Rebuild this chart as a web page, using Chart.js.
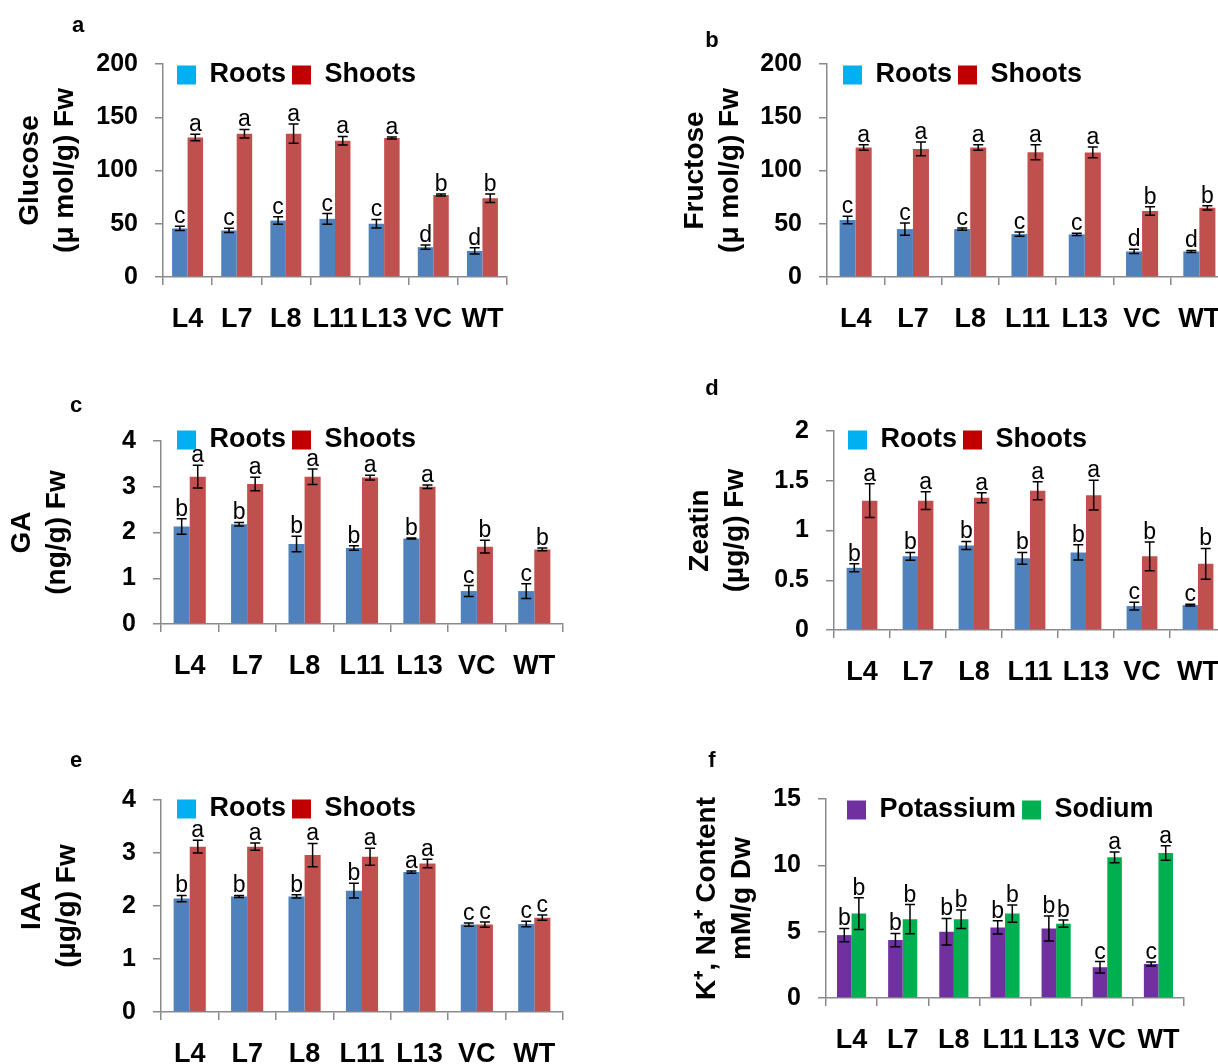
<!DOCTYPE html>
<html>
<head>
<meta charset="utf-8">
<script src="https://cdn.jsdelivr.net/npm/chart.js@4.4.0/dist/chart.umd.min.js"></script>
<style>
  html, body { margin: 0; padding: 0; background: #fff; width: 1218px; height: 1064px; overflow: hidden; }
  .panel { position: absolute; }
  .tag { position: absolute; width: 30px; text-align: center; font: bold 22px "Liberation Sans", Arial, sans-serif; color: #000; }
</style>
</head>
<body>
<script>
// ── data ──
const categories = ['L4', 'L7', 'L8', 'L11', 'L13', 'VC', 'WT'];

const glucoseRoots = [45.6, 43.7, 53, 54.6, 50, 28, 24.5];
const glucoseRootsErr = [2, 2, 3.5, 5, 4, 2, 3];
const glucoseRootsSig = ['c', 'c', 'c', 'c', 'c', 'd', 'd'];
const glucoseShoots = [131, 134.6, 134.6, 128, 130.5, 77, 74];
const glucoseShootsErr = [3, 4, 9, 4, 1, 1, 4];
const glucoseShootsSig = ['a', 'a', 'a', 'a', 'a', 'b', 'b'];

const fructoseRoots = [53.6, 45, 45, 40.3, 40, 24, 24];
const fructoseRootsErr = [3.5, 5.7, 1, 2, 1, 2, 1];
const fructoseRootsSig = ['c', 'c', 'c', 'c', 'c', 'd', 'd'];
const fructoseShoots = [121.6, 120.3, 121.6, 117.2, 117, 62, 65];
const fructoseShootsErr = [2.5, 6.5, 2.5, 7, 5, 4, 2];
const fructoseShootsSig = ['a', 'a', 'a', 'a', 'a', 'b', 'b'];

const gaRoots = [2.13, 2.18, 1.75, 1.66, 1.87, 0.72, 0.72];
const gaRootsErr = [0.17, 0.04, 0.17, 0.05, 0.01, 0.12, 0.16];
const gaRootsSig = ['b', 'b', 'b', 'b', 'b', 'c', 'c'];
const gaShoots = [3.22, 3.06, 3.22, 3.2, 3.0, 1.69, 1.63];
const gaShootsErr = [0.25, 0.15, 0.17, 0.05, 0.04, 0.14, 0.03];
const gaShootsSig = ['a', 'a', 'a', 'a', 'a', 'b', 'b'];

const zeatinRoots = [0.625, 0.74, 0.85, 0.72, 0.78, 0.24, 0.25];
const zeatinRootsErr = [0.04, 0.04, 0.04, 0.06, 0.076, 0.04, 0.01];
const zeatinRootsSig = ['b', 'b', 'b', 'b', 'b', 'c', 'c'];
const zeatinShoots = [1.3, 1.3, 1.33, 1.4, 1.355, 0.74, 0.665];
const zeatinShootsErr = [0.17, 0.09, 0.05, 0.09, 0.15, 0.145, 0.155];
const zeatinShootsSig = ['a', 'a', 'a', 'a', 'a', 'b', 'b'];

const iaaRoots = [2.14, 2.18, 2.18, 2.29, 2.64, 1.65, 1.66];
const iaaRootsErr = [0.06, 0.02, 0.03, 0.14, 0.02, 0.03, 0.05];
const iaaRootsSig = ['b', 'b', 'b', 'b', 'a', 'c', 'c'];
const iaaShoots = [3.12, 3.12, 2.96, 2.93, 2.8, 1.65, 1.78];
const iaaShootsErr = [0.12, 0.07, 0.22, 0.16, 0.08, 0.05, 0.05];
const iaaShootsSig = ['a', 'a', 'a', 'a', 'a', 'c', 'c'];

const potassium = [4.74, 4.37, 5.0, 5.32, 5.24, 2.32, 2.57];
const potassiumErr = [0.5, 0.5, 1.0, 0.5, 0.95, 0.43, 0.15];
const potassiumSig = ['b', 'b', 'b', 'b', 'b', 'c', 'c'];
const sodium = [6.36, 5.94, 5.94, 6.36, 5.6, 10.6, 10.93];
const sodiumErr = [1.2, 1.1, 0.7, 0.65, 0.27, 0.4, 0.55];
const sodiumSig = ['b', 'b', 'b', 'b', 'b', 'a', 'a'];

// ── style ──
const FONT = '"Liberation Sans", Arial, sans-serif';
const AXIS = '#8a8a8a';
const ROOT_BAR = '#4F81BD', SHOOT_BAR = '#C0504D';
const ROOT_KEY = '#00B0F0', SHOOT_KEY = '#C00000';
const K_COL = '#7030A0', NA_COL = '#00B050';
const PAD_TOP = 30, PAD_RIGHT = 20, X_H = 60;

Chart.defaults.font.family = FONT;

// error bars + significance letters, and legend moved inside the plot
const extras = {
    id: 'extras',
    afterInit(chart) {
        const lg = chart.legend;
        if (!lg) return;
        const fit = lg.fit;
        lg.fit = function () { fit.call(this); this.height = 0; };
    },
    afterLayout(chart, args, opts) {
        const lg = chart.legend, ca = chart.chartArea;
        const pad = lg.options.labels.padding;
        lg.left = ca.left + opts.dx - pad;
        lg.right = ca.right + 400;
        lg.top = ca.top + opts.dy - pad - lg.options.labels.font.size / 2;
        lg.bottom = lg.top + 80;
    },
    afterDatasetsDraw(chart) {
        const ctx = chart.ctx, y = chart.scales.y;
        chart.data.datasets.forEach((ds, di) => {
            chart.getDatasetMeta(di).data.forEach((bar, i) => {
                const v = ds.data[i], e = ds.err[i];
                const yt = y.getPixelForValue(v + e), yb = y.getPixelForValue(v - e);
                ctx.save();
                ctx.strokeStyle = '#000';
                ctx.lineWidth = 1.5;
                ctx.beginPath();
                ctx.moveTo(bar.x, yt); ctx.lineTo(bar.x, yb);
                ctx.moveTo(bar.x - 5, yt); ctx.lineTo(bar.x + 5, yt);
                ctx.moveTo(bar.x - 5, yb); ctx.lineTo(bar.x + 5, yb);
                ctx.stroke();
                ctx.fillStyle = '#000';
                ctx.font = '23px ' + FONT;
                ctx.textAlign = 'center';
                ctx.textBaseline = 'alphabetic';
                ctx.fillText(ds.sig[i], bar.x, yt - 3);
                ctx.restore();
            });
        });
    }
};

function makePanel(p) {
    const top = p.plotTop - PAD_TOP;
    const div = document.createElement('div');
    div.className = 'panel';
    div.style.left = p.left + 'px';
    div.style.top = top + 'px';
    div.style.width = (p.plotRight - p.left + PAD_RIGHT) + 'px';
    div.style.height = (p.plotBottom - top + X_H + 6) + 'px';
    const canvas = document.createElement('canvas');
    div.appendChild(canvas);
    document.body.appendChild(div);

    const tag = document.createElement('div');
    tag.className = 'tag';
    tag.textContent = p.tag;
    tag.style.left = (p.tagX - 15) + 'px';
    tag.style.top = (p.tagY - 13) + 'px';
    document.body.appendChild(tag);

    new Chart(canvas, {
        type: 'bar',
        data: {
            labels: categories,
            datasets: p.series.map(s => ({
                label: s.name, data: s.values, err: s.err, sig: s.sig, keyColor: s.key,
                backgroundColor: s.color, borderWidth: 0,
                categoryPercentage: p.catPct, barPercentage: 1
            }))
        },
        options: {
            responsive: true,
            maintainAspectRatio: false,
            animation: false,
            layout: { padding: { top: PAD_TOP, right: PAD_RIGHT, bottom: 6, left: 0 } },
            plugins: {
                tooltip: { enabled: false },
                extras: { dx: p.legendDx, dy: p.legendDy },
                legend: {
                    align: 'start',
                    labels: {
                        boxWidth: 19, boxHeight: 19, padding: 6, color: '#000',
                        font: { size: 27, weight: 'bold' },
                        generateLabels: chart => chart.data.datasets.map((ds, i) => ({
                            text: ds.label, fillStyle: ds.keyColor, strokeStyle: ds.keyColor,
                            lineWidth: 0, hidden: false, datasetIndex: i, fontColor: '#000'
                        }))
                    }
                }
            },
            scales: {
                x: {
                    grid: { offset: true, drawOnChartArea: false, tickLength: 8, color: AXIS, lineWidth: 1.5 },
                    border: { color: AXIS, width: 1.5 },
                    ticks: { color: '#000', font: { size: 27, weight: 'bold' }, padding: 18, autoSkip: false, maxRotation: 0, minRotation: 0 },
                    afterFit: s => { s.height = X_H; }
                },
                y: {
                    min: 0, max: p.max,
                    ticks: { stepSize: p.step, color: '#000', font: { size: 25, weight: 'bold' }, padding: 17, callback: v => String(+v) },
                    grid: { drawOnChartArea: false, tickLength: 8, color: AXIS, lineWidth: 1.5 },
                    border: { color: AXIS, width: 1.5 },
                    title: {
                        display: true, text: p.title, color: '#000',
                        font: { size: 28, weight: 'bold', lineHeight: 1.25 },
                        padding: { top: p.titleX - p.left - 17.5, bottom: 0 }
                    },
                    afterFit: s => { s.width = p.axisX - p.left; }
                }
            }
        },
        plugins: [extras]
    });
}

const rootsShoots = (r, re, rs, s, se, ss) => [
    { name: 'Roots', values: r, err: re, sig: rs, color: ROOT_BAR, key: ROOT_KEY },
    { name: 'Shoots', values: s, err: se, sig: ss, color: SHOOT_BAR, key: SHOOT_KEY }
];

makePanel({
    tag: 'a', tagX: 78, tagY: 25,
    left: 0, axisX: 163, plotTop: 62, plotBottom: 277, plotRight: 507, titleX: 30,
    catPct: 0.63, legendDx: 14, legendDy: 11, max: 200, step: 50,
    title: ['Glucose', '(μ mol/g) Fw'],
    series: rootsShoots(glucoseRoots, glucoseRootsErr, glucoseRootsSig, glucoseShoots, glucoseShootsErr, glucoseShootsSig)
});
makePanel({
    tag: 'b', tagX: 712, tagY: 40,
    left: 660, axisX: 827, plotTop: 62, plotBottom: 277, plotRight: 1228, titleX: 695,
    catPct: 0.56, legendDx: 16, legendDy: 11, max: 200, step: 50,
    title: ['Fructose', '(μ mol/g) Fw'],
    series: rootsShoots(fructoseRoots, fructoseRootsErr, fructoseRootsSig, fructoseShoots, fructoseShootsErr, fructoseShootsSig)
});
makePanel({
    tag: 'c', tagX: 76, tagY: 405,
    left: 0, axisX: 161, plotTop: 439, plotBottom: 624, plotRight: 563, titleX: 22,
    catPct: 0.56, legendDx: 16, legendDy: -1, max: 4, step: 1,
    title: ['GA', '(ng/g) Fw'],
    series: rootsShoots(gaRoots, gaRootsErr, gaRootsSig, gaShoots, gaShootsErr, gaShootsSig)
});
makePanel({
    tag: 'd', tagX: 712, tagY: 388,
    left: 660, axisX: 834, plotTop: 429, plotBottom: 630, plotRight: 1226, titleX: 700,
    catPct: 0.55, legendDx: 14, legendDy: 9, max: 2, step: 0.5,
    title: ['Zeatin', '(µg/g) Fw'],
    series: rootsShoots(zeatinRoots, zeatinRootsErr, zeatinRootsSig, zeatinShoots, zeatinShootsErr, zeatinShootsSig)
});
makePanel({
    tag: 'e', tagX: 76, tagY: 760,
    left: 0, axisX: 161, plotTop: 798, plotBottom: 1012, plotRight: 563, titleX: 32,
    catPct: 0.56, legendDx: 16, legendDy: 9, max: 4, step: 1,
    title: ['IAA', '(µg/g) Fw'],
    series: rootsShoots(iaaRoots, iaaRootsErr, iaaRootsSig, iaaShoots, iaaShootsErr, iaaShootsSig)
});
makePanel({
    tag: 'f', tagX: 712, tagY: 760,
    left: 660, axisX: 826, plotTop: 797, plotBottom: 998, plotRight: 1184, titleX: 707,
    catPct: 0.57, legendDx: 21, legendDy: 11, max: 15, step: 5,
    title: ['K⁺, Na⁺ Content', 'mM/g Dw'],
    series: [
        { name: 'Potassium', values: potassium, err: potassiumErr, sig: potassiumSig, color: K_COL, key: K_COL },
        { name: 'Sodium', values: sodium, err: sodiumErr, sig: sodiumSig, color: NA_COL, key: NA_COL }
    ]
});
</script>
</body>
</html>
